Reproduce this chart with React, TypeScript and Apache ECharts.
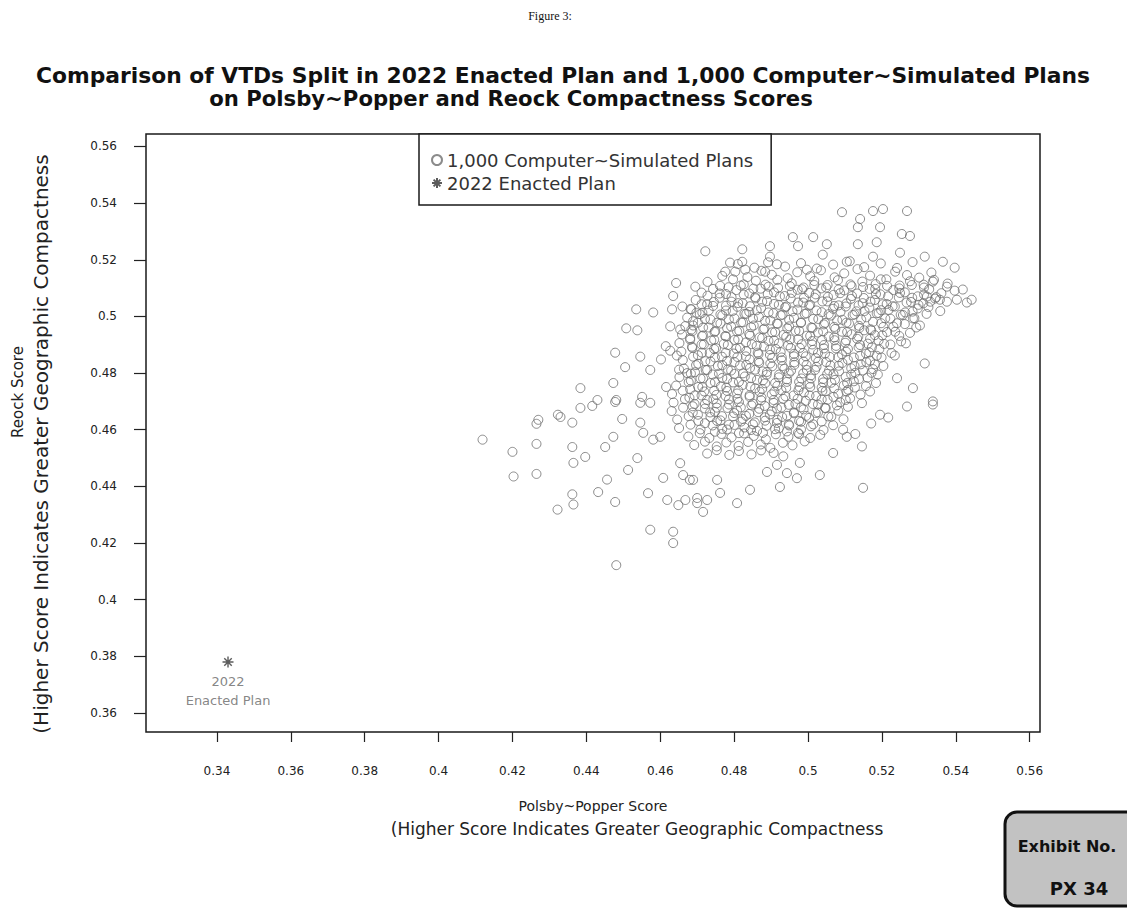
import React, { useEffect, useRef } from "react";
import * as echarts from "echarts";

const xTicks = [0.34, 0.36, 0.38, 0.4, 0.42, 0.44, 0.46, 0.48, 0.5, 0.52, 0.54, 0.56];
const yTicks = [0.36, 0.38, 0.4, 0.42, 0.44, 0.46, 0.48, 0.5, 0.52, 0.54, 0.56];

const enactedPlan = [[0.343, 0.378]];

// sparse simulated plans on the left / lower edge of the cloud
const simulatedLeft = [
  [0.4643, 0.5118], [0.4635, 0.5072], [0.4535, 0.5025], [0.4581, 0.5014], [0.4632, 0.5025], [0.4684, 0.5025],
  [0.4508, 0.4958], [0.4538, 0.4951], [0.4627, 0.4965], [0.4689, 0.4968], [0.4478, 0.4872], [0.4546, 0.4858],
  [0.4505, 0.4821], [0.4573, 0.4811], [0.4627, 0.4879], [0.4673, 0.48], [0.4384, 0.4747], [0.4473, 0.4765],
  [0.443, 0.4705], [0.4384, 0.4677], [0.4481, 0.4705], [0.4551, 0.4716], [0.4616, 0.4751], [0.433, 0.4645],
  [0.427, 0.4635], [0.4615, 0.4895], [0.4645, 0.4862], [0.4602, 0.4848],
  [0.4119, 0.4565], [0.42, 0.4522], [0.4203, 0.4435], [0.4265, 0.4621], [0.4265, 0.455], [0.4265, 0.4444],
  [0.4323, 0.4653], [0.4362, 0.4625], [0.4416, 0.4684], [0.4362, 0.4539], [0.4397, 0.4504], [0.4365, 0.4483],
  [0.4362, 0.4372], [0.4365, 0.4336], [0.4322, 0.4318], [0.4456, 0.4424], [0.4432, 0.438], [0.4478, 0.4345],
  [0.4451, 0.4539], [0.4473, 0.4575], [0.4497, 0.4638], [0.4481, 0.4122], [0.4573, 0.4247], [0.4635, 0.424],
  [0.4635, 0.42], [0.4567, 0.4376], [0.4513, 0.4458], [0.4538, 0.45], [0.4608, 0.443], [0.4619, 0.4352],
  [0.4649, 0.4334], [0.47, 0.4359], [0.4662, 0.444], [0.468, 0.4423], [0.4654, 0.4482], [0.4546, 0.4625],
  [0.4554, 0.4589], [0.4581, 0.4565], [0.46, 0.4575], [0.4546, 0.4695], [0.4573, 0.4695], [0.4478, 0.4698],
];

// sparse simulated plans on the top / right edge of the cloud
const simulatedRight = [
  [0.5092, 0.5368], [0.5268, 0.5372], [0.5176, 0.5372], [0.5203, 0.5379], [0.5141, 0.5344], [0.5135, 0.5315],
  [0.5195, 0.5315], [0.5254, 0.5291], [0.5276, 0.5284], [0.5186, 0.5262], [0.5135, 0.5255], [0.5051, 0.5255],
  [0.5014, 0.528], [0.4959, 0.528], [0.4973, 0.5248], [0.4897, 0.5248], [0.4822, 0.5237], [0.4722, 0.523],
  [0.504, 0.5218], [0.5105, 0.5193], [0.5176, 0.5211], [0.5249, 0.5225], [0.5316, 0.5211], [0.5365, 0.5193],
  [0.5397, 0.5172], [0.4897, 0.5211], [0.4916, 0.5184], [0.4822, 0.5193], [0.4789, 0.519], [0.4776, 0.5158],
  [0.483, 0.5165], [0.4884, 0.5158], [0.4997, 0.5165], [0.5338, 0.5123], [0.5376, 0.5105], [0.5419, 0.5095],
  [0.543, 0.5049], [0.5403, 0.5059], [0.5357, 0.5059], [0.5322, 0.507], [0.5284, 0.4993], [0.5303, 0.4968],
  [0.5316, 0.4834], [0.5338, 0.47], [0.5284, 0.4747], [0.5241, 0.4782], [0.4695, 0.5105], [0.466, 0.5035],
  [0.4654, 0.4954], [0.4651, 0.4812], [0.5443, 0.5059], [0.5265, 0.4905], [0.5235, 0.4862],
  [0.5338, 0.4689], [0.5268, 0.4682], [0.5217, 0.4643], [0.5195, 0.4653], [0.5146, 0.4541], [0.5149, 0.4395],
  [0.5032, 0.444], [0.497, 0.4429], [0.4924, 0.4398], [0.4943, 0.4447], [0.4916, 0.4476], [0.4889, 0.4451],
  [0.4843, 0.4388], [0.4808, 0.4341], [0.4754, 0.4423], [0.4762, 0.4377], [0.4727, 0.4352], [0.47, 0.4341],
  [0.4716, 0.431], [0.4689, 0.4423], [0.4668, 0.4352], [0.4978, 0.4483], [0.5068, 0.4518], [0.5105, 0.4575],
  [0.5095, 0.46], [0.5171, 0.4622], [0.5128, 0.4585],
];

// dense core, upper part
const simulatedCoreUpper = [
  [0.481, 0.5185], [0.4855, 0.5172], [0.4892, 0.5191], [0.4938, 0.5176], [0.4981, 0.5188], [0.5024, 0.5169], [0.5068, 0.5183], [0.5113, 0.5195], [0.5152, 0.5174], [0.5197, 0.5187], [0.5241, 0.5171], [0.5283, 0.5192],
  [0.4768, 0.5143], [0.4803, 0.5158], [0.4836, 0.5139], [0.4874, 0.5161], [0.4902, 0.5147], [0.4945, 0.5135], [0.4971, 0.5156], [0.5006, 0.5142], [0.5035, 0.5163], [0.5072, 0.5138], [0.5098, 0.5152], [0.5134, 0.5167], [0.5168, 0.5144], [0.5197, 0.5131], [0.5236, 0.5158], [0.5268, 0.5146], [0.5301, 0.5137], [0.5334, 0.5155],
  [0.4728, 0.5122], [0.4762, 0.5108], [0.4797, 0.5131], [0.4826, 0.5113], [0.4859, 0.5126], [0.4893, 0.5105], [0.4917, 0.5129], [0.4956, 0.5117], [0.4988, 0.5102], [0.5017, 0.5125], [0.5053, 0.5111], [0.5081, 0.5128], [0.5118, 0.5107], [0.5147, 0.5123], [0.5183, 0.5114], [0.5212, 0.5131], [0.5248, 0.5109], [0.5276, 0.5124], [0.5313, 0.5112], [0.5341, 0.5129], [0.5378, 0.5116],
  [0.4712, 0.5084], [0.4743, 0.5097], [0.4778, 0.5079], [0.4806, 0.5093], [0.4841, 0.5081], [0.4872, 0.5098], [0.4908, 0.5085], [0.4937, 0.5072], [0.4972, 0.5094], [0.5003, 0.5083], [0.5036, 0.5099], [0.5069, 0.5076], [0.5098, 0.5092], [0.5133, 0.5081], [0.5167, 0.5097], [0.5196, 0.5078], [0.5231, 0.5093], [0.5262, 0.5085], [0.5297, 0.5071], [0.5328, 0.5096], [0.5361, 0.5082], [0.5397, 0.5091],
  [0.4696, 0.5058], [0.4727, 0.5043], [0.4761, 0.5066], [0.4793, 0.5052], [0.4823, 0.5047], [0.4857, 0.5068], [0.4889, 0.5054], [0.4921, 0.5041], [0.4953, 0.5063], [0.4987, 0.5049], [0.5018, 0.5066], [0.5052, 0.5053], [0.5083, 0.5039], [0.5116, 0.5062], [0.5148, 0.5047], [0.5181, 0.5058], [0.5213, 0.5044], [0.5246, 0.5067], [0.5279, 0.5051], [0.5312, 0.5046], [0.5344, 0.5063], [0.5376, 0.5052],
  [0.4682, 0.5026], [0.4714, 0.5013], [0.4743, 0.5037], [0.4778, 0.5021], [0.4809, 0.5034], [0.4841, 0.5016], [0.4873, 0.5029], [0.4906, 0.5011], [0.4938, 0.5032], [0.4971, 0.5024], [0.5003, 0.5038], [0.5037, 0.5015], [0.5068, 0.5027], [0.5102, 0.5035], [0.5131, 0.5018], [0.5166, 0.5031], [0.5198, 0.5022], [0.5229, 0.5036], [0.5263, 0.5014], [0.5297, 0.5028], [0.5326, 0.5033], [0.5358, 0.5019],
  [0.4673, 0.4996], [0.4707, 0.5008], [0.4736, 0.4989], [0.4768, 0.5004], [0.4801, 0.4993], [0.4833, 0.5009], [0.4867, 0.4998], [0.4898, 0.4986], [0.4931, 0.5006], [0.4962, 0.4995], [0.4996, 0.5011], [0.5028, 0.4991], [0.5062, 0.5003], [0.5093, 0.4988], [0.5126, 0.5007], [0.5158, 0.4997], [0.5191, 0.5012], [0.5223, 0.4992], [0.5257, 0.5005], [0.5288, 0.4994], [0.5321, 0.5009],
  [0.4668, 0.4966], [0.4702, 0.4978], [0.4731, 0.4961], [0.4763, 0.4975], [0.4792, 0.4964], [0.4824, 0.4979], [0.4853, 0.4968], [0.4882, 0.4957], [0.4918, 0.4974], [0.4949, 0.4965], [0.4981, 0.4977], [0.5012, 0.4959], [0.5043, 0.4972], [0.5071, 0.4963], [0.5104, 0.4978], [0.5138, 0.4967], [0.5169, 0.4955], [0.5198, 0.4976], [0.5231, 0.4964], [0.5262, 0.4973], [0.5293, 0.4961],
  [0.4659, 0.4936], [0.4687, 0.4948], [0.4716, 0.4933], [0.4747, 0.4945], [0.4776, 0.4931], [0.4808, 0.4947], [0.4841, 0.4938], [0.4869, 0.4926], [0.4903, 0.4944], [0.4934, 0.4935], [0.4966, 0.4949], [0.4997, 0.4932], [0.5027, 0.4943], [0.5056, 0.4929], [0.5092, 0.4946], [0.5118, 0.4937], [0.5152, 0.4951], [0.5181, 0.4934], [0.5214, 0.4945], [0.5247, 0.4931], [0.5276, 0.4942],
  [0.4652, 0.4906], [0.4681, 0.4918], [0.4712, 0.4901], [0.4738, 0.4915], [0.4772, 0.4903], [0.4801, 0.4917], [0.4832, 0.4908], [0.4861, 0.4896], [0.4893, 0.4914], [0.4921, 0.4905], [0.4952, 0.4919], [0.4983, 0.4902], [0.5011, 0.4913], [0.5043, 0.4899], [0.5072, 0.4916], [0.5101, 0.4907], [0.5133, 0.4921], [0.5162, 0.4904], [0.5191, 0.4915], [0.5223, 0.4901], [0.5252, 0.4912],
];

// dense core, lower part
const simulatedCoreLower = [
  [0.4657, 0.4876], [0.4687, 0.4889], [0.4713, 0.4872], [0.4746, 0.4885], [0.4777, 0.4871], [0.4806, 0.4886], [0.4833, 0.4878], [0.4866, 0.4867], [0.4897, 0.4883], [0.4926, 0.4874], [0.4953, 0.4889], [0.4987, 0.4871], [0.5014, 0.4882], [0.5046, 0.4869], [0.5076, 0.4887], [0.5103, 0.4876], [0.5137, 0.4891], [0.5166, 0.4873], [0.5193, 0.4884], [0.5226, 0.4871],
  [0.4661, 0.4846], [0.4689, 0.4858], [0.4722, 0.4842], [0.4748, 0.4855], [0.4781, 0.4843], [0.4809, 0.4857], [0.4842, 0.4848], [0.4868, 0.4836], [0.4903, 0.4854], [0.4929, 0.4845], [0.4962, 0.4859], [0.4988, 0.4841], [0.5021, 0.4853], [0.5049, 0.4839], [0.5082, 0.4856], [0.5108, 0.4847], [0.5141, 0.4861], [0.5168, 0.4844], [0.5199, 0.4855],
  [0.4664, 0.4816], [0.4697, 0.4828], [0.4723, 0.4811], [0.4756, 0.4825], [0.4783, 0.4813], [0.4816, 0.4827], [0.4843, 0.4818], [0.4877, 0.4806], [0.4903, 0.4824], [0.4936, 0.4815], [0.4963, 0.4829], [0.4997, 0.4811], [0.5023, 0.4822], [0.5057, 0.4809], [0.5083, 0.4826], [0.5117, 0.4817], [0.5143, 0.4831], [0.5176, 0.4814], [0.5204, 0.4825],
  [0.4652, 0.4786], [0.4683, 0.4798], [0.4709, 0.4781], [0.4742, 0.4795], [0.4768, 0.4783], [0.4801, 0.4797], [0.4829, 0.4788], [0.4862, 0.4776], [0.4888, 0.4794], [0.4921, 0.4785], [0.4948, 0.4799], [0.4982, 0.4781], [0.5008, 0.4792], [0.5041, 0.4779], [0.5069, 0.4796], [0.5102, 0.4787], [0.5128, 0.4801], [0.5161, 0.4784], [0.5189, 0.4795],
  [0.4643, 0.4756], [0.4677, 0.4768], [0.4703, 0.4751], [0.4736, 0.4765], [0.4764, 0.4753], [0.4797, 0.4767], [0.4823, 0.4758], [0.4857, 0.4746], [0.4884, 0.4764], [0.4917, 0.4755], [0.4943, 0.4769], [0.4977, 0.4751], [0.5004, 0.4762], [0.5037, 0.4749], [0.5063, 0.4766], [0.5097, 0.4757], [0.5124, 0.4771], [0.5157, 0.4754], [0.5184, 0.4765],
  [0.4632, 0.4726], [0.4661, 0.4738], [0.4693, 0.4721], [0.4719, 0.4735], [0.4752, 0.4723], [0.4781, 0.4737], [0.4808, 0.4728], [0.4842, 0.4716], [0.4869, 0.4734], [0.4902, 0.4725], [0.4928, 0.4739], [0.4961, 0.4721], [0.4989, 0.4732], [0.5022, 0.4719], [0.5048, 0.4736], [0.5082, 0.4727], [0.5109, 0.4741], [0.5142, 0.4724], [0.5168, 0.4735],
  [0.4636, 0.4696], [0.4667, 0.4708], [0.4693, 0.4691], [0.4727, 0.4705], [0.4753, 0.4693], [0.4786, 0.4707], [0.4813, 0.4698], [0.4847, 0.4686], [0.4873, 0.4704], [0.4907, 0.4695], [0.4933, 0.4709], [0.4966, 0.4691], [0.4994, 0.4702], [0.5027, 0.4689], [0.5053, 0.4706], [0.5087, 0.4697], [0.5114, 0.4711], [0.5146, 0.4694],
  [0.4631, 0.4666], [0.4662, 0.4678], [0.4688, 0.4661], [0.4721, 0.4675], [0.4748, 0.4663], [0.4782, 0.4677], [0.4808, 0.4668], [0.4841, 0.4656], [0.4868, 0.4674], [0.4902, 0.4665], [0.4928, 0.4679], [0.4962, 0.4661], [0.4988, 0.4672], [0.5021, 0.4659], [0.5048, 0.4676], [0.5082, 0.4667], [0.5108, 0.4681],
  [0.4646, 0.4636], [0.4677, 0.4648], [0.4703, 0.4631], [0.4736, 0.4645], [0.4763, 0.4633], [0.4797, 0.4647], [0.4823, 0.4638], [0.4856, 0.4626], [0.4883, 0.4644], [0.4917, 0.4635], [0.4943, 0.4649], [0.4976, 0.4631], [0.5003, 0.4642], [0.5037, 0.4629], [0.5063, 0.4646], [0.5096, 0.4637],
  [0.4651, 0.4606], [0.4682, 0.4618], [0.4709, 0.4601], [0.4742, 0.4615], [0.4768, 0.4603], [0.4801, 0.4617], [0.4828, 0.4608], [0.4862, 0.4596], [0.4888, 0.4614], [0.4921, 0.4605], [0.4948, 0.4619], [0.4981, 0.4601], [0.5008, 0.4612], [0.5042, 0.4599], [0.5068, 0.4616],
  [0.4676, 0.4576], [0.4707, 0.4588], [0.4733, 0.4571], [0.4766, 0.4585], [0.4793, 0.4573], [0.4827, 0.4587], [0.4853, 0.4578], [0.4886, 0.4566], [0.4913, 0.4584], [0.4947, 0.4575], [0.4973, 0.4589], [0.5006, 0.4571], [0.5033, 0.4582],
  [0.4692, 0.4546], [0.4721, 0.4558], [0.4753, 0.4541], [0.4779, 0.4555], [0.4812, 0.4543], [0.4838, 0.4557], [0.4872, 0.4548], [0.4898, 0.4536], [0.4932, 0.4554], [0.4958, 0.4545], [0.4991, 0.4559],
  [0.4727, 0.4516], [0.4753, 0.4528], [0.4787, 0.4511], [0.4813, 0.4525], [0.4847, 0.4513], [0.4873, 0.4527], [0.4907, 0.4518], [0.4933, 0.4506],
];

// densest centre of the cloud, between the core rows
const simulatedCoreCentre = [
  [0.4785, 0.5103], [0.4818, 0.5109], [0.4852, 0.5098], [0.4885, 0.5112], [0.4919, 0.5101], [0.4951, 0.5107], [0.4984, 0.5096], [0.5017, 0.5111], [0.5049, 0.5102], [0.5083, 0.5095], [0.5115, 0.5113], [0.5149, 0.5104], [0.5182, 0.5097], [0.5214, 0.5108], [0.5247, 0.5099], [0.5281, 0.5111], [0.5314, 0.5102],
  [0.4728, 0.5073], [0.4761, 0.5081], [0.4793, 0.5068], [0.4826, 0.5077], [0.4858, 0.5064], [0.4891, 0.5079], [0.4924, 0.5071], [0.4956, 0.5083], [0.4989, 0.5066], [0.5021, 0.5078], [0.5054, 0.5069], [0.5087, 0.5082], [0.5119, 0.5072], [0.5151, 0.5065], [0.5184, 0.5079], [0.5217, 0.5071], [0.5249, 0.5083], [0.5282, 0.5066], [0.5314, 0.5077], [0.5347, 0.5068],
  [0.4712, 0.5043], [0.4745, 0.5051], [0.4778, 0.5038], [0.4811, 0.5047], [0.4843, 0.5036], [0.4876, 0.5052], [0.4908, 0.5044], [0.4941, 0.5035], [0.4973, 0.5049], [0.5006, 0.5041], [0.5039, 0.5053], [0.5071, 0.5037], [0.5104, 0.5046], [0.5137, 0.5039], [0.5169, 0.5052], [0.5202, 0.5043], [0.5235, 0.5035], [0.5267, 0.5049], [0.5299, 0.5041], [0.5331, 0.5052],
  [0.4698, 0.5013], [0.4731, 0.5021], [0.4763, 0.5007], [0.4796, 0.5019], [0.4828, 0.5009], [0.4861, 0.5022], [0.4893, 0.5014], [0.4926, 0.5004], [0.4958, 0.5018], [0.4991, 0.5009], [0.5023, 0.5021], [0.5056, 0.5008], [0.5088, 0.5016], [0.5121, 0.5005], [0.5153, 0.5019], [0.5186, 0.5011], [0.5218, 0.5023], [0.5251, 0.5006], [0.5283, 0.5017],
  [0.4689, 0.4983], [0.4721, 0.4991], [0.4754, 0.4978], [0.4786, 0.4989], [0.4819, 0.4979], [0.4851, 0.4992], [0.4884, 0.4984], [0.4916, 0.4975], [0.4949, 0.4988], [0.4981, 0.4979], [0.5014, 0.4991], [0.5046, 0.4977], [0.5079, 0.4986], [0.5111, 0.4975], [0.5144, 0.4989], [0.5176, 0.4981], [0.5209, 0.4993], [0.5241, 0.4976],
  [0.4684, 0.4953], [0.4716, 0.4961], [0.4749, 0.4948], [0.4781, 0.4959], [0.4814, 0.4949], [0.4846, 0.4962], [0.4879, 0.4954], [0.4911, 0.4945], [0.4944, 0.4958], [0.4976, 0.4949], [0.5009, 0.4961], [0.5041, 0.4947], [0.5074, 0.4956], [0.5106, 0.4945], [0.5139, 0.4959], [0.5171, 0.4951], [0.5204, 0.4963], [0.5236, 0.4946],
  [0.4681, 0.4923], [0.4713, 0.4931], [0.4746, 0.4918], [0.4778, 0.4929], [0.4811, 0.4919], [0.4843, 0.4932], [0.4876, 0.4924], [0.4908, 0.4915], [0.4941, 0.4928], [0.4973, 0.4919], [0.5006, 0.4931], [0.5038, 0.4917], [0.5071, 0.4926], [0.5103, 0.4915], [0.5136, 0.4929], [0.5168, 0.4921], [0.5201, 0.4933],
  [0.4686, 0.4893], [0.4718, 0.4901], [0.4751, 0.4888], [0.4783, 0.4899], [0.4816, 0.4889], [0.4848, 0.4902], [0.4881, 0.4894], [0.4913, 0.4885], [0.4946, 0.4898], [0.4978, 0.4889], [0.5011, 0.4901], [0.5043, 0.4887], [0.5076, 0.4896], [0.5108, 0.4885], [0.5141, 0.4899], [0.5173, 0.4891], [0.5206, 0.4903],
  [0.4702, 0.4863], [0.4734, 0.4871], [0.4767, 0.4858], [0.4799, 0.4869], [0.4832, 0.4859], [0.4864, 0.4872], [0.4897, 0.4864], [0.4929, 0.4855], [0.4962, 0.4868], [0.4994, 0.4859], [0.5027, 0.4871], [0.5059, 0.4857], [0.5092, 0.4866], [0.5124, 0.4855], [0.5157, 0.4869], [0.5186, 0.4861],
  [0.4703, 0.4833], [0.4736, 0.4841], [0.4768, 0.4828], [0.4801, 0.4839], [0.4833, 0.4829], [0.4866, 0.4842], [0.4898, 0.4834], [0.4931, 0.4825], [0.4963, 0.4838], [0.4996, 0.4829], [0.5028, 0.4841], [0.5061, 0.4827], [0.5093, 0.4836], [0.5126, 0.4825], [0.5158, 0.4839], [0.5181, 0.4831],
  [0.4694, 0.4803], [0.4727, 0.4811], [0.4759, 0.4798], [0.4792, 0.4809], [0.4824, 0.4799], [0.4857, 0.4812], [0.4889, 0.4804], [0.4922, 0.4795], [0.4954, 0.4808], [0.4987, 0.4799], [0.5019, 0.4811], [0.5052, 0.4797], [0.5084, 0.4806], [0.5117, 0.4795], [0.5149, 0.4809], [0.5172, 0.4801],
  [0.4683, 0.4773], [0.4716, 0.4781], [0.4748, 0.4768], [0.4781, 0.4779], [0.4813, 0.4769], [0.4846, 0.4782], [0.4878, 0.4774], [0.4911, 0.4765], [0.4943, 0.4778], [0.4976, 0.4769], [0.5008, 0.4781], [0.5041, 0.4767], [0.5073, 0.4776], [0.5106, 0.4765], [0.5138, 0.4779],
  [0.4681, 0.4743], [0.4714, 0.4751], [0.4746, 0.4738], [0.4779, 0.4749], [0.4811, 0.4739], [0.4844, 0.4752], [0.4876, 0.4744], [0.4909, 0.4735], [0.4941, 0.4748], [0.4974, 0.4739], [0.5006, 0.4751], [0.5039, 0.4737], [0.5071, 0.4746], [0.5104, 0.4735], [0.5127, 0.4749],
  [0.4679, 0.4713], [0.4712, 0.4721], [0.4744, 0.4708], [0.4777, 0.4719], [0.4809, 0.4709], [0.4842, 0.4722], [0.4874, 0.4714], [0.4907, 0.4705], [0.4939, 0.4718], [0.4972, 0.4709], [0.5004, 0.4721], [0.5037, 0.4707], [0.5069, 0.4716], [0.5102, 0.4705],
  [0.4688, 0.4683], [0.4721, 0.4691], [0.4753, 0.4678], [0.4786, 0.4689], [0.4818, 0.4679], [0.4851, 0.4692], [0.4883, 0.4684], [0.4916, 0.4675], [0.4948, 0.4688], [0.4981, 0.4679], [0.5013, 0.4691], [0.5046, 0.4677], [0.5078, 0.4686],
  [0.4702, 0.4653], [0.4735, 0.4661], [0.4767, 0.4648], [0.48, 0.4659], [0.4832, 0.4649], [0.4865, 0.4662], [0.4897, 0.4654], [0.493, 0.4645], [0.4962, 0.4658], [0.4995, 0.4649], [0.5027, 0.4661], [0.5055, 0.4647],
  [0.4721, 0.4623], [0.4754, 0.4631], [0.4786, 0.4618], [0.4819, 0.4629], [0.4851, 0.4619], [0.4884, 0.4632], [0.4916, 0.4624], [0.4949, 0.4615], [0.4981, 0.4628], [0.5014, 0.4619],
  [0.4748, 0.4593], [0.4781, 0.4601], [0.4813, 0.4588], [0.4846, 0.4599], [0.4878, 0.4589], [0.4911, 0.4602], [0.4943, 0.4594], [0.4976, 0.4585],
];

const SIM_NAME = "1,000 Computer~Simulated Plans";
const ENACTED_NAME = "2022 Enacted Plan";
const STAR = "path://M5,0L5,10M0,5L10,5M1.6,1.6L8.4,8.4M1.6,8.4L8.4,1.6";
const FONT = "DejaVu Sans";

export default function App() {
  const ref = useRef<HTMLDivElement>(null);
  useEffect(() => {
    document.body.style.margin = "0";
    const chart = echarts.init(ref.current as HTMLDivElement, null, { renderer: "svg" });
    const fmt = (v: number) => String(Number(v.toFixed(2)));
    chart.setOption({
      animation: false,
      backgroundColor: "#ffffff",
      textStyle: { fontFamily: FONT, color: "#222" },
      grid: {
        left: 146, top: 134, width: 894, height: 598,
        show: true, borderColor: "#1a1a1a", borderWidth: 1.5, backgroundColor: "transparent",
      },
      xAxis: {
        type: "value", min: 0.3208, max: 0.5628,
        axisLine: { show: false }, splitLine: { show: false },
        axisTick: { show: true, length: 10, customValues: xTicks, lineStyle: { color: "#222", width: 1.2 } },
        axisLabel: { customValues: xTicks, margin: 33, fontSize: 12, color: "#222", fontFamily: FONT, formatter: fmt },
      },
      yAxis: {
        type: "value", min: 0.3533, max: 0.5644,
        axisLine: { show: false }, splitLine: { show: false },
        axisTick: { show: true, length: 12, customValues: yTicks, lineStyle: { color: "#222", width: 1.2 } },
        axisLabel: { customValues: yTicks, margin: 29, fontSize: 12, color: "#222", fontFamily: FONT, formatter: fmt },
      },
      legend: {
        left: 419, top: 134, orient: "vertical",
        padding: [15, 18, 11, 12], itemGap: 1, itemWidth: 10, itemHeight: 10,
        borderColor: "#1a1a1a", borderWidth: 1.5, backgroundColor: "#fff",
        textStyle: { fontSize: 18, color: "#333", fontFamily: FONT, lineHeight: 22 },
        data: [{ name: SIM_NAME }, { name: ENACTED_NAME }],
        selectedMode: false,
      },
      series: [
        {
          name: SIM_NAME, type: "scatter", symbol: "circle", symbolSize: 9,
          itemStyle: { color: "rgba(0,0,0,0)", borderColor: "#6e6e6e", borderWidth: 1 },
          data: [...simulatedLeft, ...simulatedRight, ...simulatedCoreUpper, ...simulatedCoreLower, ...simulatedCoreCentre],
          z: 2,
        },
        {
          name: ENACTED_NAME, type: "scatter", symbol: STAR, symbolSize: 11,
          itemStyle: { color: "rgba(0,0,0,0)", borderColor: "#333", borderWidth: 1.4 },
          label: {
            show: true, position: "bottom", distance: 4, formatter: "2022\nEnacted Plan",
            fontSize: 13, lineHeight: 19, color: "#666", fontFamily: FONT, align: "center",
          },
          data: enactedPlan,
          z: 3,
        },
      ],
      graphic: [
        { type: "text", x: 550, y: 16, style: { text: "Figure 3:", fontSize: 12, fontFamily: "Liberation Serif", fill: "#111", align: "center", verticalAlign: "middle" } },
        { type: "text", x: 563, y: 75, style: { text: "Comparison of VTDs Split in 2022 Enacted Plan and 1,000 Computer~Simulated Plans", fontSize: 21.8, fontWeight: "bold", fontFamily: FONT, fill: "#111", align: "center", verticalAlign: "middle" } },
        { type: "text", x: 511, y: 98, style: { text: "on Polsby~Popper and Reock Compactness Scores", fontSize: 21.2, fontWeight: "bold", fontFamily: FONT, fill: "#111", align: "center", verticalAlign: "middle" } },
        { type: "text", x: 593, y: 806, style: { text: "Polsby~Popper Score", fontSize: 14, fontFamily: FONT, fill: "#222", align: "center", verticalAlign: "middle" } },
        { type: "text", x: 637, y: 829, style: { text: "(Higher Score Indicates Greater Geographic Compactness", fontSize: 17, fontFamily: FONT, fill: "#222", align: "center", verticalAlign: "middle" } },
        { type: "text", x: 18, y: 392, rotation: Math.PI / 2, style: { text: "Reock Score", fontSize: 15, fontFamily: FONT, fill: "#222", align: "center", verticalAlign: "middle" } },
        { type: "text", x: 41, y: 444, rotation: Math.PI / 2, style: { text: "(Higher Score Indicates Greater Geographic Compactness", fontSize: 20, fontFamily: FONT, fill: "#222", align: "center", verticalAlign: "middle" } },
        { type: "rect", shape: { x: 1005, y: 812, width: 140, height: 94, r: 12 }, style: { fill: "#c2c2c2", stroke: "#111", lineWidth: 3 } },
        { type: "text", x: 1067, y: 846, style: { text: "Exhibit No.", fontSize: 16, fontWeight: "bold", fontFamily: FONT, fill: "#111", align: "center", verticalAlign: "middle" } },
        { type: "text", x: 1079, y: 888, style: { text: "PX 34", fontSize: 18, fontWeight: "bold", fontFamily: FONT, fill: "#111", align: "center", verticalAlign: "middle" } },
      ],
    });
    return () => chart.dispose();
  }, []);
  return <div ref={ref} style={{ width: 1127, height: 918 }} />;
}
